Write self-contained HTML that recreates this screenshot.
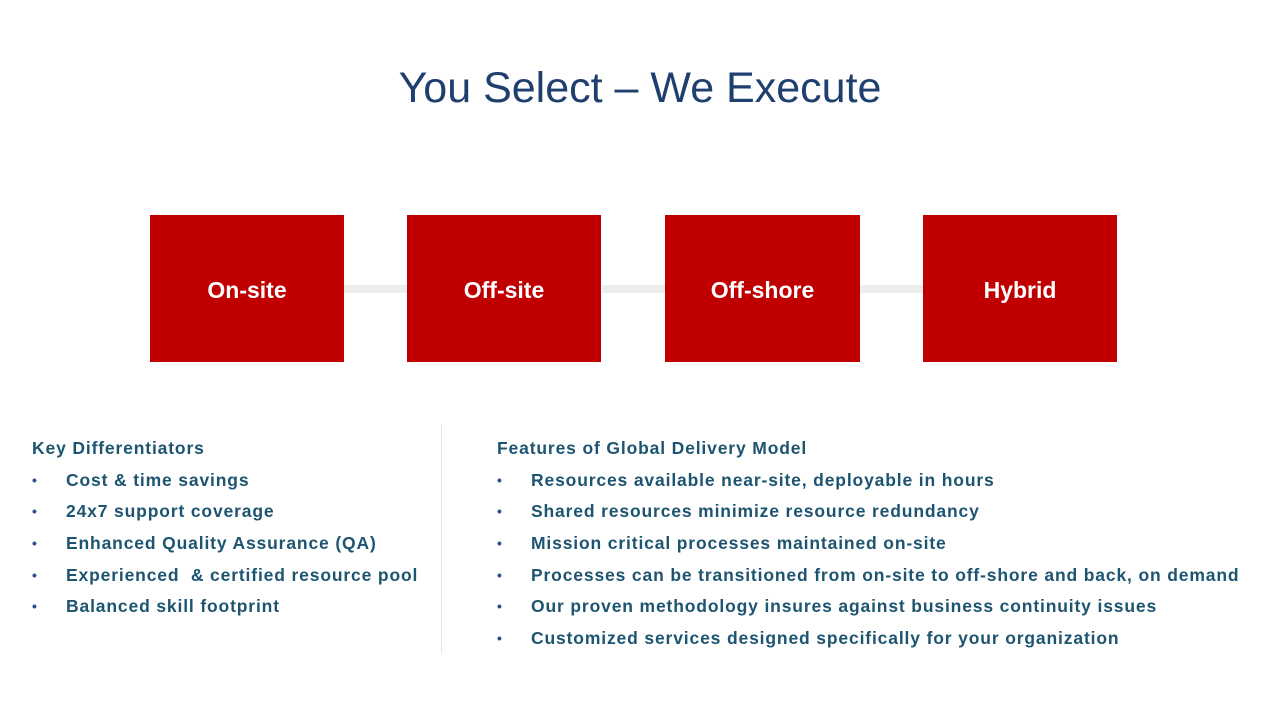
<!DOCTYPE html>
<html><head><style>
body{margin:0;width:1280px;height:720px;background:#fff;position:relative;overflow:hidden;font-family:"Liberation Sans",sans-serif}
.t{position:absolute;left:0;width:1280px;top:61px;text-align:center;font-size:43px;color:#1f3f6e;line-height:54px}
.b{position:absolute;top:215px;width:194px;height:147px;background:#c00000;color:#fff;font-weight:bold;font-size:23px;display:flex;align-items:center;justify-content:center;padding-top:4px;box-sizing:border-box}
.c{position:absolute;top:285px;height:8px;background:#eeeeee}
.l{position:absolute;font-weight:bold;font-size:17.5px;color:#1d5470;white-space:nowrap;letter-spacing:0.85px}
.l div{height:31.7px;line-height:31.7px;position:relative}
.l div.i{padding-left:34px}
.l div.i:before{content:"•";position:absolute;left:0;color:#2a4f8a;font-size:14px}
</style></head><body>
<div class="t">You Select – We Execute</div>
<div class="c" style="left:344px;width:63px"></div>
<div class="c" style="left:602px;width:63px"></div>
<div class="c" style="left:860px;width:63px"></div>
<div class="b" style="left:150px">On-site</div>
<div class="b" style="left:407px">Off-site</div>
<div class="b" style="left:665px;width:195px">Off-shore</div>
<div class="b" style="left:923px">Hybrid</div>
<div style="position:absolute;left:441px;top:425px;width:1px;height:228px;background:#e4e4e4"></div>
<div class="l" style="left:32px;top:433px">
<div>Key Differentiators</div>
<div class="i">Cost &amp; time savings</div>
<div class="i">24x7 support coverage</div>
<div class="i">Enhanced Quality Assurance (QA)</div>
<div class="i">Experienced &nbsp;&amp; certified resource pool</div>
<div class="i">Balanced skill footprint</div>
</div>
<div class="l" style="left:497px;top:433px">
<div>Features of Global Delivery Model</div>
<div class="i">Resources available near-site, deployable in hours</div>
<div class="i">Shared resources minimize resource redundancy</div>
<div class="i">Mission critical processes maintained on-site</div>
<div class="i">Processes can be transitioned from on-site to off-shore and back, on demand</div>
<div class="i">Our proven methodology insures against business continuity issues</div>
<div class="i">Customized services designed specifically for your organization</div>
</div>
</body></html>
